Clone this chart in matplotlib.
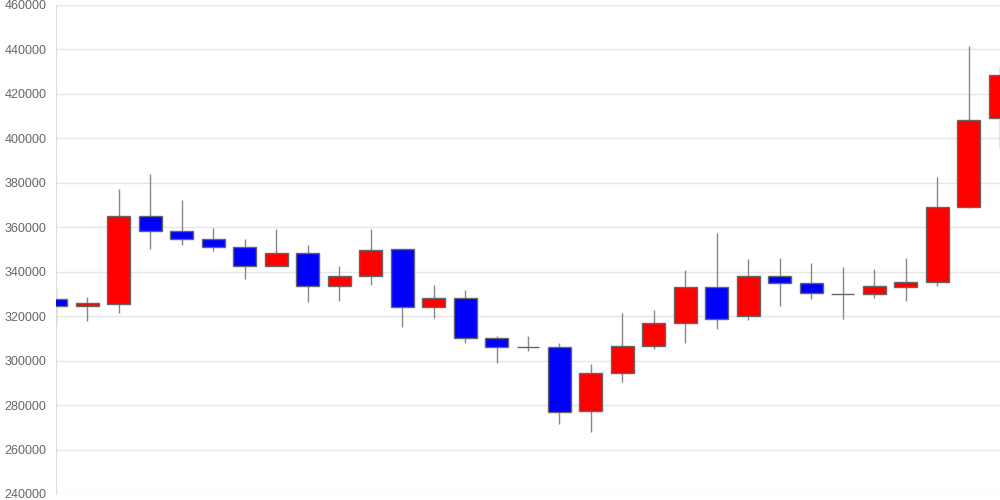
import matplotlib
matplotlib.use("Agg")
import matplotlib.pyplot as plt

# daily OHLC
opens = [327600, 324800, 325300, 364900, 358300, 354700, 351100, 342600, 348600, 333600,
         337900, 350100, 324000, 328200, 310000, 306000, 306000, 277500, 294400, 306400,
         316900, 333100, 319900, 337900, 334800, 330200, 330100, 333300, 335200, 369300,
         409300]
highs = [332800, 328800, 377200, 383800, 372300, 359800, 354700, 359200, 352000, 342400,
         359200, 350100, 333900, 331800, 311200, 311100, 307900, 298400, 321400, 322800,
         340800, 357400, 345900, 346300, 343800, 342000, 341200, 346300, 382600, 441400,
         432600]
lows = [315700, 317700, 321300, 350200, 352200, 349500, 336600, 342600, 326200, 326700,
        334200, 315300, 319300, 308100, 299100, 304500, 271600, 268000, 290500, 305400,
        307800, 314400, 318400, 324400, 327900, 318900, 328300, 327000, 333700, 368700,
        395300]
closes = [324700, 325900, 364900, 358300, 354700, 351000, 342600, 348600, 333600, 337900,
          349800, 324000, 328200, 310000, 306000, 306000, 277000, 294600, 306400, 316900,
          333100, 318600, 337900, 334800, 330300, 329900, 333400, 335500, 369300, 408100,
          428600]
y_ticks = list(range(240000, 460001, 20000))

n = len(opens)
xs = list(range(n))
bottoms = [min(o, c) for o, c in zip(opens, closes)]
heights = [abs(c - o) for o, c in zip(opens, closes)]
colors = ["red" if c >= o else "blue" for o, c in zip(opens, closes)]

fig = plt.figure(figsize=(10, 5), dpi=100)
ax = fig.add_axes([0.056, 0.012, 0.944, 0.978])

ax.vlines(xs, lows, highs, color="#888888", linewidth=1, zorder=2)
ax.bar(xs, heights, bottom=bottoms, width=0.73, color=colors,
       edgecolor="#666666", linewidth=1, zorder=3)

ax.set_xlim(0, n - 1)
ax.set_ylim(240000, 460000)
ax.set_yticks(y_ticks)
ax.set_yticklabels([str(v) for v in y_ticks], family="Liberation Sans")
ax.set_xticks([])
ax.grid(True, axis="y", color="#e6e6e6", linewidth=1, zorder=0)
ax.set_axisbelow(True)
for side in ("top", "right", "bottom"):
    ax.spines[side].set_visible(False)
ax.spines["left"].set_color("#dddddd")
ax.tick_params(axis="y", length=0, pad=7, labelsize=9, labelcolor="#666666")

fig.savefig("out.png", dpi=100)
